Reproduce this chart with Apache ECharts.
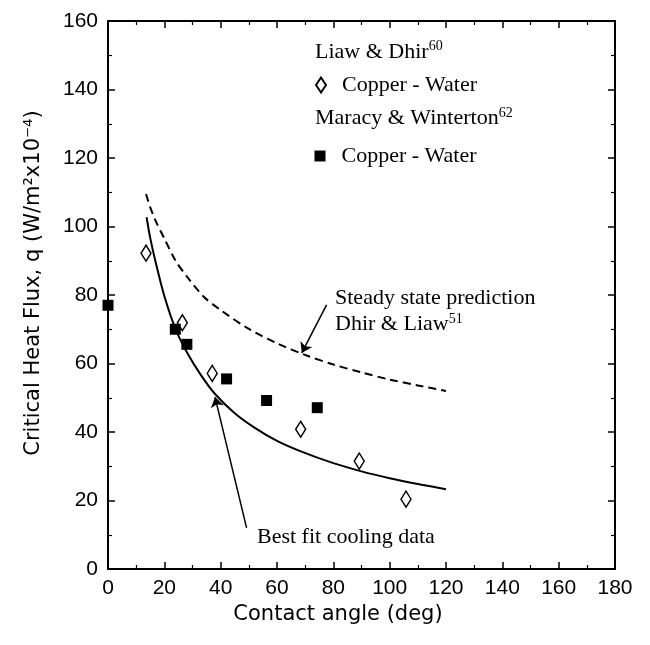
<!DOCTYPE html>
<html><head><meta charset="utf-8">
<script src="https://cdn.jsdelivr.net/npm/echarts@6/dist/echarts.min.js"></script>
<style>html,body{margin:0;padding:0;background:#fff}#c{width:650px;height:645px}</style>
</head><body><div id="c"></div>
<script>
// ---- data ----
const xTickValues = [0,20,40,60,80,100,120,140,160,180];
const xTickLabels = ['0','20','40','60','80','100','120','140','160','180'];
const yTickValues = [0,20,40,60,80,100,120,140,160];
const yTickLabels = ['0','20','40','60','80','100','120','140','160'];

const liawDhirCopperWater = [[13.5,92.2],[26.4,71.9],[37.0,57.1],[68.4,40.8],[89.2,31.5],[105.8,20.4]];
const maracyCopperWater = [[0,77],[23.9,70.0],[28.0,65.6],[42.1,55.5],[56.3,49.2],[74.3,47.1]];

const steadyStatePrediction = [[13.5,109.5],[15,105.6],[17,101.5],[20,96.5],[24,90.0],[28,85.4],[34,79.5],[40,75.6],[50,70.1],[60,65.9],[70,62.5],[80,59.7],[90,57.4],[100,55.3],[110,53.6],[120,52]];
const bestFitCooling = [[13.7,102.7],[15,96.6],[17,89.3],[20,79.7],[24,70.0],[28,63.3],[33,56.6],[38,51.1],[45,45.5],[52,41.3],[60,37.4],[68,34.5],[80,30.9],[90,28.5],[100,26.5],[110,24.8],[120,23.3]];

const arrowSteady = [[77.6,77.1],[68.8,63.1]];
const arrowBestFit = [[49.2,12.0],[38.0,50.2]];

// ---- layout / text ----
const serif = 'Liberation Serif';
const annotations = [
  {text:'{b|Steady state prediction}', at:[80.6,79.2]},
  {text:'{b|Dhir & Liaw}{s|51}', at:[80.6,71.4]},
  {text:'{b|Best fit cooling data}', at:[52.9,9.3]},
  {text:'{b|Liaw & Dhir}{s|60}', at:[73.5,151.0]},
  {text:'{b|Maracy & Winterton}{s|62}', at:[73.5,131.5]}
];

const chart = echarts.init(document.getElementById('c'), null, {renderer:'canvas'});
const axisCommon = {
  min:0, interval:20,
  axisLine:{show:true, onZero:false, lineStyle:{color:'#000', width:2}},
  axisTick:{show:true, inside:true, length:7, lineStyle:{color:'#000', width:1.5}},
  minorTick:{show:true, splitNumber:2, length:4, lineStyle:{color:'#000', width:1.2}},
  splitLine:{show:false}
};
const sansTick = {color:'#000', fontFamily:'Liberation Sans', fontSize:21};
const lbl = (vals, labs) => v => { const i = vals.indexOf(v); return i >= 0 ? labs[i] : ''; };

chart.setOption({
  backgroundColor:'#fff',
  animation:false,
  grid:{left:108, right:35, top:21, bottom:76},
  xAxis:[
    Object.assign({}, axisCommon, {type:'value', max:180, position:'bottom',
      axisLabel:Object.assign({}, sansTick, {margin:9, formatter:lbl(xTickValues,xTickLabels)}),
      name:'Contact angle (deg)', nameLocation:'middle', nameGap:29,
      nameTextStyle:{color:'#000', fontFamily:'DejaVu Sans', fontSize:21, padding:[0,47,0,0]}}),
    Object.assign({}, axisCommon, {type:'value', max:180, position:'top', axisLabel:{show:false}})
  ],
  yAxis:[
    Object.assign({}, axisCommon, {type:'value', max:160, position:'left',
      axisLabel:Object.assign({}, sansTick, {margin:10, formatter:lbl(yTickValues,yTickLabels)}),
      name:'Critical Heat Flux, q (W/m²x10⁻⁴)', nameLocation:'middle', nameGap:64,
      nameTextStyle:{color:'#000', fontFamily:'DejaVu Sans', fontSize:21, padding:[0,0,0,24]}}),
    Object.assign({}, axisCommon, {type:'value', max:160, position:'right', axisLabel:{show:false}})
  ],
  legend:[
    {data:['Liaw & Dhir: Copper - Water'], left:315, top:74, padding:0, orient:'vertical',
     icon:'diamond', itemWidth:10, itemHeight:15, formatter:()=> 'Copper - Water',
     textStyle:{color:'#000', fontFamily:serif, fontSize:22, padding:[0,0,0,11]}},
    {data:['Maracy & Winterton: Copper - Water'], left:314.5, top:145, padding:0, orient:'vertical',
     icon:'rect', itemWidth:11, itemHeight:11, formatter:()=> 'Copper - Water',
     textStyle:{color:'#000', fontFamily:serif, fontSize:22, padding:[0,0,0,11]}}
  ],
  series:[
    {name:'Steady state prediction', type:'line', data:steadyStatePrediction, smooth:0.3, showSymbol:false,
     lineStyle:{color:'#000', width:2, type:[8,5]}, z:2},
    {name:'Best fit cooling data', type:'line', data:bestFitCooling, smooth:0.3, showSymbol:false,
     lineStyle:{color:'#000', width:2}, z:2},
    {name:'Liaw & Dhir: Copper - Water', type:'scatter', data:liawDhirCopperWater, symbol:'diamond',
     symbolSize:[10,16], itemStyle:{color:'#fff', borderColor:'#000', borderWidth:1.5, opacity:1}, z:4, clip:false},
    {name:'Maracy & Winterton: Copper - Water', type:'scatter', data:maracyCopperWater, symbol:'rect',
     symbolSize:11, itemStyle:{color:'#000', opacity:1}, z:4, clip:false},
    {name:'arrows', type:'lines', coordinateSystem:'cartesian2d', symbol:['none','arrow'], symbolSize:10,
     lineStyle:{color:'#000', width:1.5, opacity:1}, data:[{coords:arrowSteady},{coords:arrowBestFit}], z:3}
  ]
});

const rich = {
  b:{fontFamily:serif, fontSize:22, color:'#000', lineHeight:24},
  s:{fontFamily:serif, fontSize:14, color:'#000', lineHeight:14, verticalAlign:'top'}
};
const graphics = annotations.map(a => {
  const p = chart.convertToPixel({xAxisIndex:0, yAxisIndex:0}, a.at);
  return {type:'text', x:p[0], y:p[1], z:10,
    style:{text:a.text, rich:rich, textAlign:'left', textVerticalAlign:'middle', verticalAlign:'middle'}};
});
chart.setOption({graphic:graphics});
</script>
</body></html>
